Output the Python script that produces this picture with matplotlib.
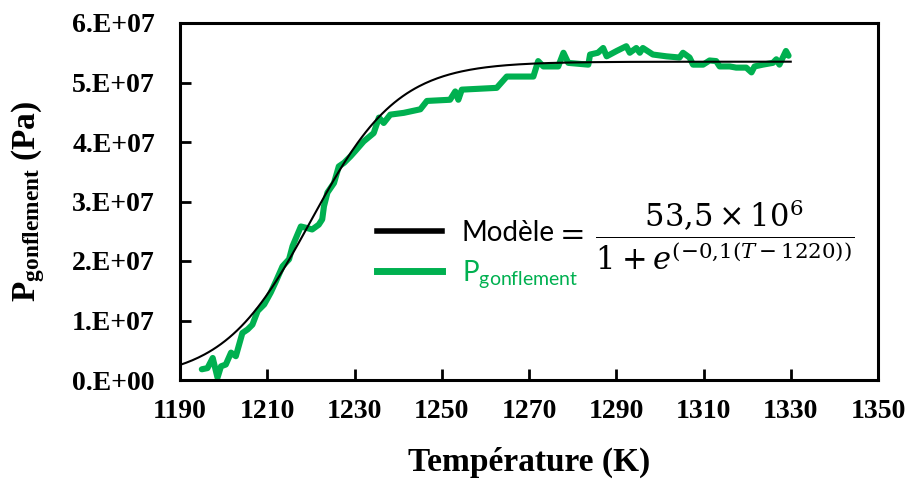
import numpy as np
import matplotlib
matplotlib.use("Agg")
import matplotlib.pyplot as plt
from matplotlib.lines import Line2D
from matplotlib.ticker import FuncFormatter

# measured swelling pressure (units of 1e7 Pa) vs temperature (K)
temp_k = [1195.0, 1196.3, 1197.5, 1198.6, 1199.4, 1200.5, 1201.7, 1202.8, 1204.3, 1205.5,
          1206.6, 1207.8, 1209.3, 1210.8, 1212.0, 1213.5, 1215.0, 1215.8, 1217.7, 1218.8,
          1220.3, 1221.8, 1222.6, 1223.0, 1223.8, 1225.3, 1226.4, 1227.6, 1229.1, 1230.2,
          1232.1, 1234.4, 1235.6, 1236.7, 1238.2, 1241.3, 1245.1, 1246.6, 1251.9, 1253.1,
          1253.8, 1254.6, 1262.6, 1264.9, 1271.0, 1272.1, 1273.3, 1276.7, 1277.9, 1279.0,
          1283.6, 1284.0, 1285.8, 1287.0, 1287.8, 1290.1, 1292.3, 1293.1, 1294.6, 1295.4,
          1296.1, 1298.4, 1301.5, 1304.5, 1305.3, 1306.8, 1307.6, 1309.9, 1311.4, 1312.9,
          1313.7, 1316.0, 1317.5, 1319.8, 1321.0, 1321.7, 1323.6, 1325.9, 1326.7, 1327.4,
          1328.9, 1329.5]
p_gonf = [0.18, 0.20, 0.37, 0.04, 0.23, 0.26, 0.46, 0.40, 0.79, 0.85,
          0.93, 1.16, 1.27, 1.47, 1.66, 1.91, 2.03, 2.25, 2.58, 2.56,
          2.53, 2.61, 2.70, 2.92, 3.15, 3.31, 3.59, 3.65, 3.76, 3.85,
          4.01, 4.15, 4.41, 4.32, 4.46, 4.49, 4.55, 4.69, 4.71, 4.85,
          4.71, 4.88, 4.91, 5.10, 5.10, 5.36, 5.27, 5.27, 5.50, 5.33,
          5.30, 5.47, 5.50, 5.58, 5.44, 5.53, 5.61, 5.50, 5.58, 5.50,
          5.58, 5.47, 5.44, 5.42, 5.50, 5.42, 5.30, 5.30, 5.37, 5.36,
          5.27, 5.27, 5.25, 5.25, 5.17, 5.27, 5.30, 5.33, 5.39, 5.30,
          5.53, 5.45]

# logistic model parameters (as written in the legend)
P_MAX = 53.5e6
RATE = 0.1
T_MID = 1220.0
T_MODEL_START, T_MODEL_END = 1190.0, 1330.0

x_ticks = [1190, 1210, 1230, 1250, 1270, 1290, 1310, 1330, 1350]
y_ticks = [0, 1e7, 2e7, 3e7, 4e7, 5e7, 6e7]

GREEN = "#00b050"

plt.rcParams["font.family"] = "Liberation Serif"
plt.rcParams["mathtext.fontset"] = "custom"
plt.rcParams["mathtext.rm"] = "DejaVu Serif"
plt.rcParams["mathtext.it"] = "DejaVu Serif:italic"
plt.rcParams["mathtext.bf"] = "Liberation Serif:bold"
plt.rcParams["mathtext.sf"] = "Lato"


def sci_label(v, pos):
    if v == 0:
        return "0.E+00"
    return "{:.0f}.E+07".format(v / 1e7)


fig = plt.figure(figsize=(9.12, 4.8), dpi=100)
ax = fig.add_axes([180 / 912, 1 - 380 / 480, 698 / 912, 357 / 480])

t_model = np.linspace(T_MODEL_START, T_MODEL_END, 300)
p_model = P_MAX / (1 + np.exp(-RATE * (t_model - T_MID)))
ax.plot(t_model, p_model, color="black", lw=1.5, zorder=3)
ax.plot(temp_k, np.array(p_gonf) * 1e7, color=GREEN, lw=4.4, zorder=2,
        solid_joinstyle="round", solid_capstyle="round")

ax.set_xlim(1190, 1350)
ax.set_ylim(0, 6e7)
ax.set_xticks(x_ticks)
ax.set_yticks(y_ticks)
ax.yaxis.set_major_formatter(FuncFormatter(sci_label))
ax.tick_params(direction="in", length=8, width=2, labelsize=20)
ax.tick_params(axis="y", pad=18)
ax.tick_params(axis="x", pad=14)
for lab in ax.get_xticklabels() + ax.get_yticklabels():
    lab.set_fontweight("bold")
for s in ax.spines.values():
    s.set_linewidth(2.2)

ax.set_xlabel("Température (K)", fontsize=24, fontweight="bold", labelpad=16)
ax.set_ylabel(r"$\mathbf{P_{gonflement}}$ (Pa)", fontsize=24, fontweight="bold", labelpad=18)

handles = [Line2D([], [], color="black", lw=4), Line2D([], [], color=GREEN, lw=5)]
leg = ax.legend(handles, ["Modèle", r"P$_{\mathsf{gonflement}}$"],
                loc="upper left", bbox_to_anchor=(377 / 912, 1 - 220 / 480),
                bbox_transform=fig.transFigure, frameon=False,
                prop={"family": "Lato", "size": 20},
                handlelength=2.35, handletextpad=0.7, labelspacing=0.45,
                borderpad=0, borderaxespad=0)
leg.get_texts()[1].set_color(GREEN)

fig.text(554 / 912, 1 - 235 / 480,
         r"$=\,\dfrac{53{,}5\times10^6}{1+e^{\left(-0{,}1(T-1220)\right)}}$",
         fontsize=22, ha="left", va="center")

plt.savefig("out.png", dpi=100)
